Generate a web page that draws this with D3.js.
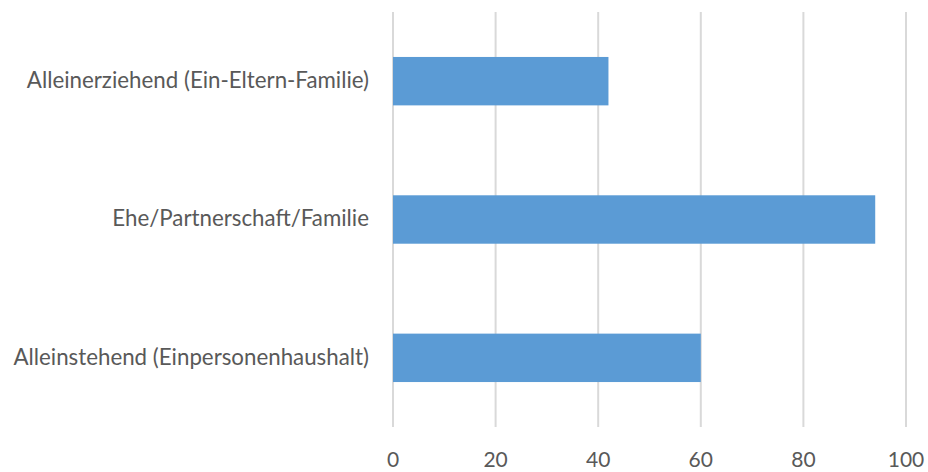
<!DOCTYPE html>
<html><head><meta charset="utf-8">
<script src="https://cdn.jsdelivr.net/npm/d3@7/dist/d3.min.js"></script>
<style>body{margin:0;background:#fff}svg{display:block}</style>
</head><body>
<script>
const categories = ["Alleinerziehend (Ein-Eltern-Familie)", "Ehe/Partnerschaft/Familie", "Alleinstehend (Einpersonenhaushalt)"];
const values = [42, 94, 60];
const tickValues = [0, 20, 40, 60, 80, 100];

const W = 928, H = 472;
const m = {left: 393, right: 22, top: 12, bottom: 45};
const svg = d3.select("body").append("svg").attr("width", W).attr("height", H);
const x = d3.scaleLinear().domain([0, 100]).range([m.left, W - m.right]);
const y = d3.scaleBand().domain(categories).range([m.top, H - m.bottom]).paddingInner(0.65).paddingOuter(0.325);
const font = "Lato, 'Open Sans', sans-serif";

svg.append("g").selectAll("line").data(tickValues).join("line")
  .attr("x1", d => x(d)).attr("x2", d => x(d))
  .attr("y1", m.top).attr("y2", H - m.bottom)
  .attr("stroke", "#d9d9d9").attr("stroke-width", 2);

svg.append("g").selectAll("rect").data(categories).join("rect")
  .attr("x", x(0)).attr("y", d => y(d))
  .attr("width", (d, i) => x(values[i]) - x(0))
  .attr("height", y.bandwidth())
  .attr("fill", "#5b9bd5");

svg.append("g").selectAll("text").data(tickValues).join("text")
  .attr("x", d => x(d)).attr("y", 467)
  .attr("text-anchor", "middle")
  .attr("font-family", font).attr("font-size", 21).attr("fill", "#595959")
  .text(d => d);

svg.append("g").selectAll("text").data(categories).join("text")
  .attr("x", 369).attr("y", d => y(d) + y.bandwidth() / 2)
  .attr("dy", "0.3em")
  .attr("text-anchor", "end")
  .attr("font-family", font).attr("font-size", 22.3).attr("fill", "#595959")
  .text(d => d);
</script>
</body></html>
